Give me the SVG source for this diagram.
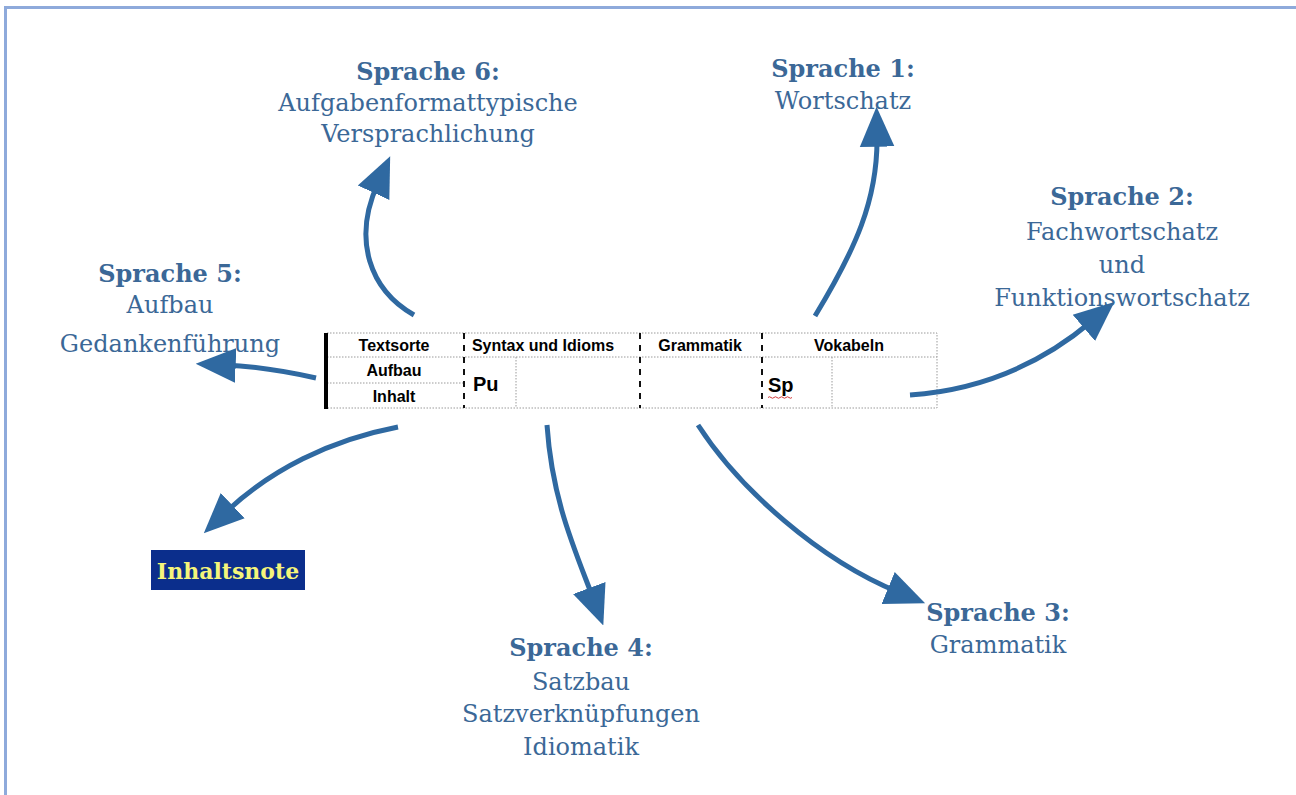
<svg xmlns="http://www.w3.org/2000/svg" width="1296" height="795" viewBox="0 0 1296 795">
<style>
.lbl{font-family:"DejaVu Serif","Liberation Serif",serif;font-size:24px;fill:#3b6897;text-anchor:middle}
.hd{font-weight:bold}
.tb{font-family:"Liberation Sans",Arial,sans-serif;font-weight:bold;font-size:16px;fill:#000;text-anchor:middle}
.arr{fill:none;stroke:#2f69a1;stroke-width:5;marker-end:url(#ah)}
.dot{stroke:#9a9a9a;stroke-width:1;stroke-dasharray:1.5 1.5;fill:none}
.dash{stroke:#111;stroke-width:2;stroke-dasharray:6 6}
</style>
<defs>
<marker id="ah" markerUnits="userSpaceOnUse" markerWidth="40" markerHeight="40" viewBox="0 0 30 26" refX="8" refY="13" orient="auto">
<path d="M0,0 L30,13 L0,26 Z" fill="#2f69a1"/>
</marker>
</defs>
<rect width="1296" height="795" fill="#fff"/>
<rect x="5.5" y="7.5" width="1320" height="820" fill="none" stroke="#8eaadb" stroke-width="3"/>

<g id="table">
<rect x="327" y="333" width="610" height="75" class="dot"/>
<line x1="327" y1="357" x2="937" y2="357" class="dot"/>
<line x1="327" y1="383" x2="464" y2="383" class="dot"/>
<line x1="516" y1="357" x2="516" y2="408" class="dot"/>
<line x1="832" y1="357" x2="832" y2="408" class="dot"/>
<line x1="464" y1="333" x2="464" y2="408" class="dash"/>
<line x1="640" y1="333" x2="640" y2="408" class="dash"/>
<line x1="762" y1="333" x2="762" y2="408" class="dash"/>
<rect x="324" y="333" width="4" height="76" fill="#000"/>
<text class="tb" x="394" y="351">Textsorte</text>
<text class="tb" x="543" y="351">Syntax und Idioms</text>
<text class="tb" x="700" y="351">Grammatik</text>
<text class="tb" x="849" y="351">Vokabeln</text>
<text class="tb" x="394" y="376">Aufbau</text>
<text class="tb" x="394" y="402">Inhalt</text>
<text class="tb" x="473" y="391" style="font-size:20px;text-anchor:start">Pu</text>
<text class="tb" x="768" y="392" style="font-size:20px;text-anchor:start">Sp</text>
<path d="M768,397.5 q1.5,-1.5 3,0 t3,0 t3,0 t3,0 t3,0 t3,0 t3,0 t3,0" fill="none" stroke="#d23c3c" stroke-width="1"/>
</g>

<g id="connectors">
<path class="arr" d="M815,316 C855,250 878,200 877,136"/>
<path class="arr" d="M910,395 C980,390 1040,365 1092,321"/>
<path class="arr" d="M698,425 C740,490 820,560 898,592"/>
<path class="arr" d="M547,425 C552,500 575,550 593,598"/>
<path class="arr" d="M398,427 C330,440 270,470 225,513"/>
<path class="arr" d="M316,378 C280,370 250,366 225,365"/>
<path class="arr" d="M414,315 C370,290 352,240 378,183"/>
</g>

<g id="sprache6">
<text class="lbl hd" x="428" y="80">Sprache 6:</text>
<text class="lbl" x="428" y="111">Aufgabenformattypische</text>
<text class="lbl" x="428" y="142">Versprachlichung</text>
</g>
<g id="sprache1">
<text class="lbl hd" x="843" y="77">Sprache 1:</text>
<text class="lbl" x="843" y="109">Wortschatz</text>
</g>
<g id="sprache2">
<text class="lbl hd" x="1122" y="205">Sprache 2:</text>
<text class="lbl" x="1122" y="240">Fachwortschatz</text>
<text class="lbl" x="1122" y="273">und</text>
<text class="lbl" x="1122" y="306">Funktionswortschatz</text>
</g>
<g id="sprache5">
<text class="lbl hd" x="170" y="282">Sprache 5:</text>
<text class="lbl" x="170" y="313">Aufbau</text>
<text class="lbl" x="170" y="352">Gedankenführung</text>
</g>
<g id="inhaltsnote">
<rect x="151" y="550" width="154" height="40" fill="#0b2e8c"/>
<text x="228" y="579" style="font-family:'DejaVu Serif','Liberation Serif',serif;font-weight:bold;font-size:22px;fill:#f5f57a;text-anchor:middle">Inhaltsnote</text>
</g>
<g id="sprache4">
<text class="lbl hd" x="581" y="656">Sprache 4:</text>
<text class="lbl" x="581" y="690">Satzbau</text>
<text class="lbl" x="581" y="722">Satzverknüpfungen</text>
<text class="lbl" x="581" y="755">Idiomatik</text>
</g>
<g id="sprache3">
<text class="lbl hd" x="998" y="621">Sprache 3:</text>
<text class="lbl" x="998" y="653">Grammatik</text>
</g>
</svg>
